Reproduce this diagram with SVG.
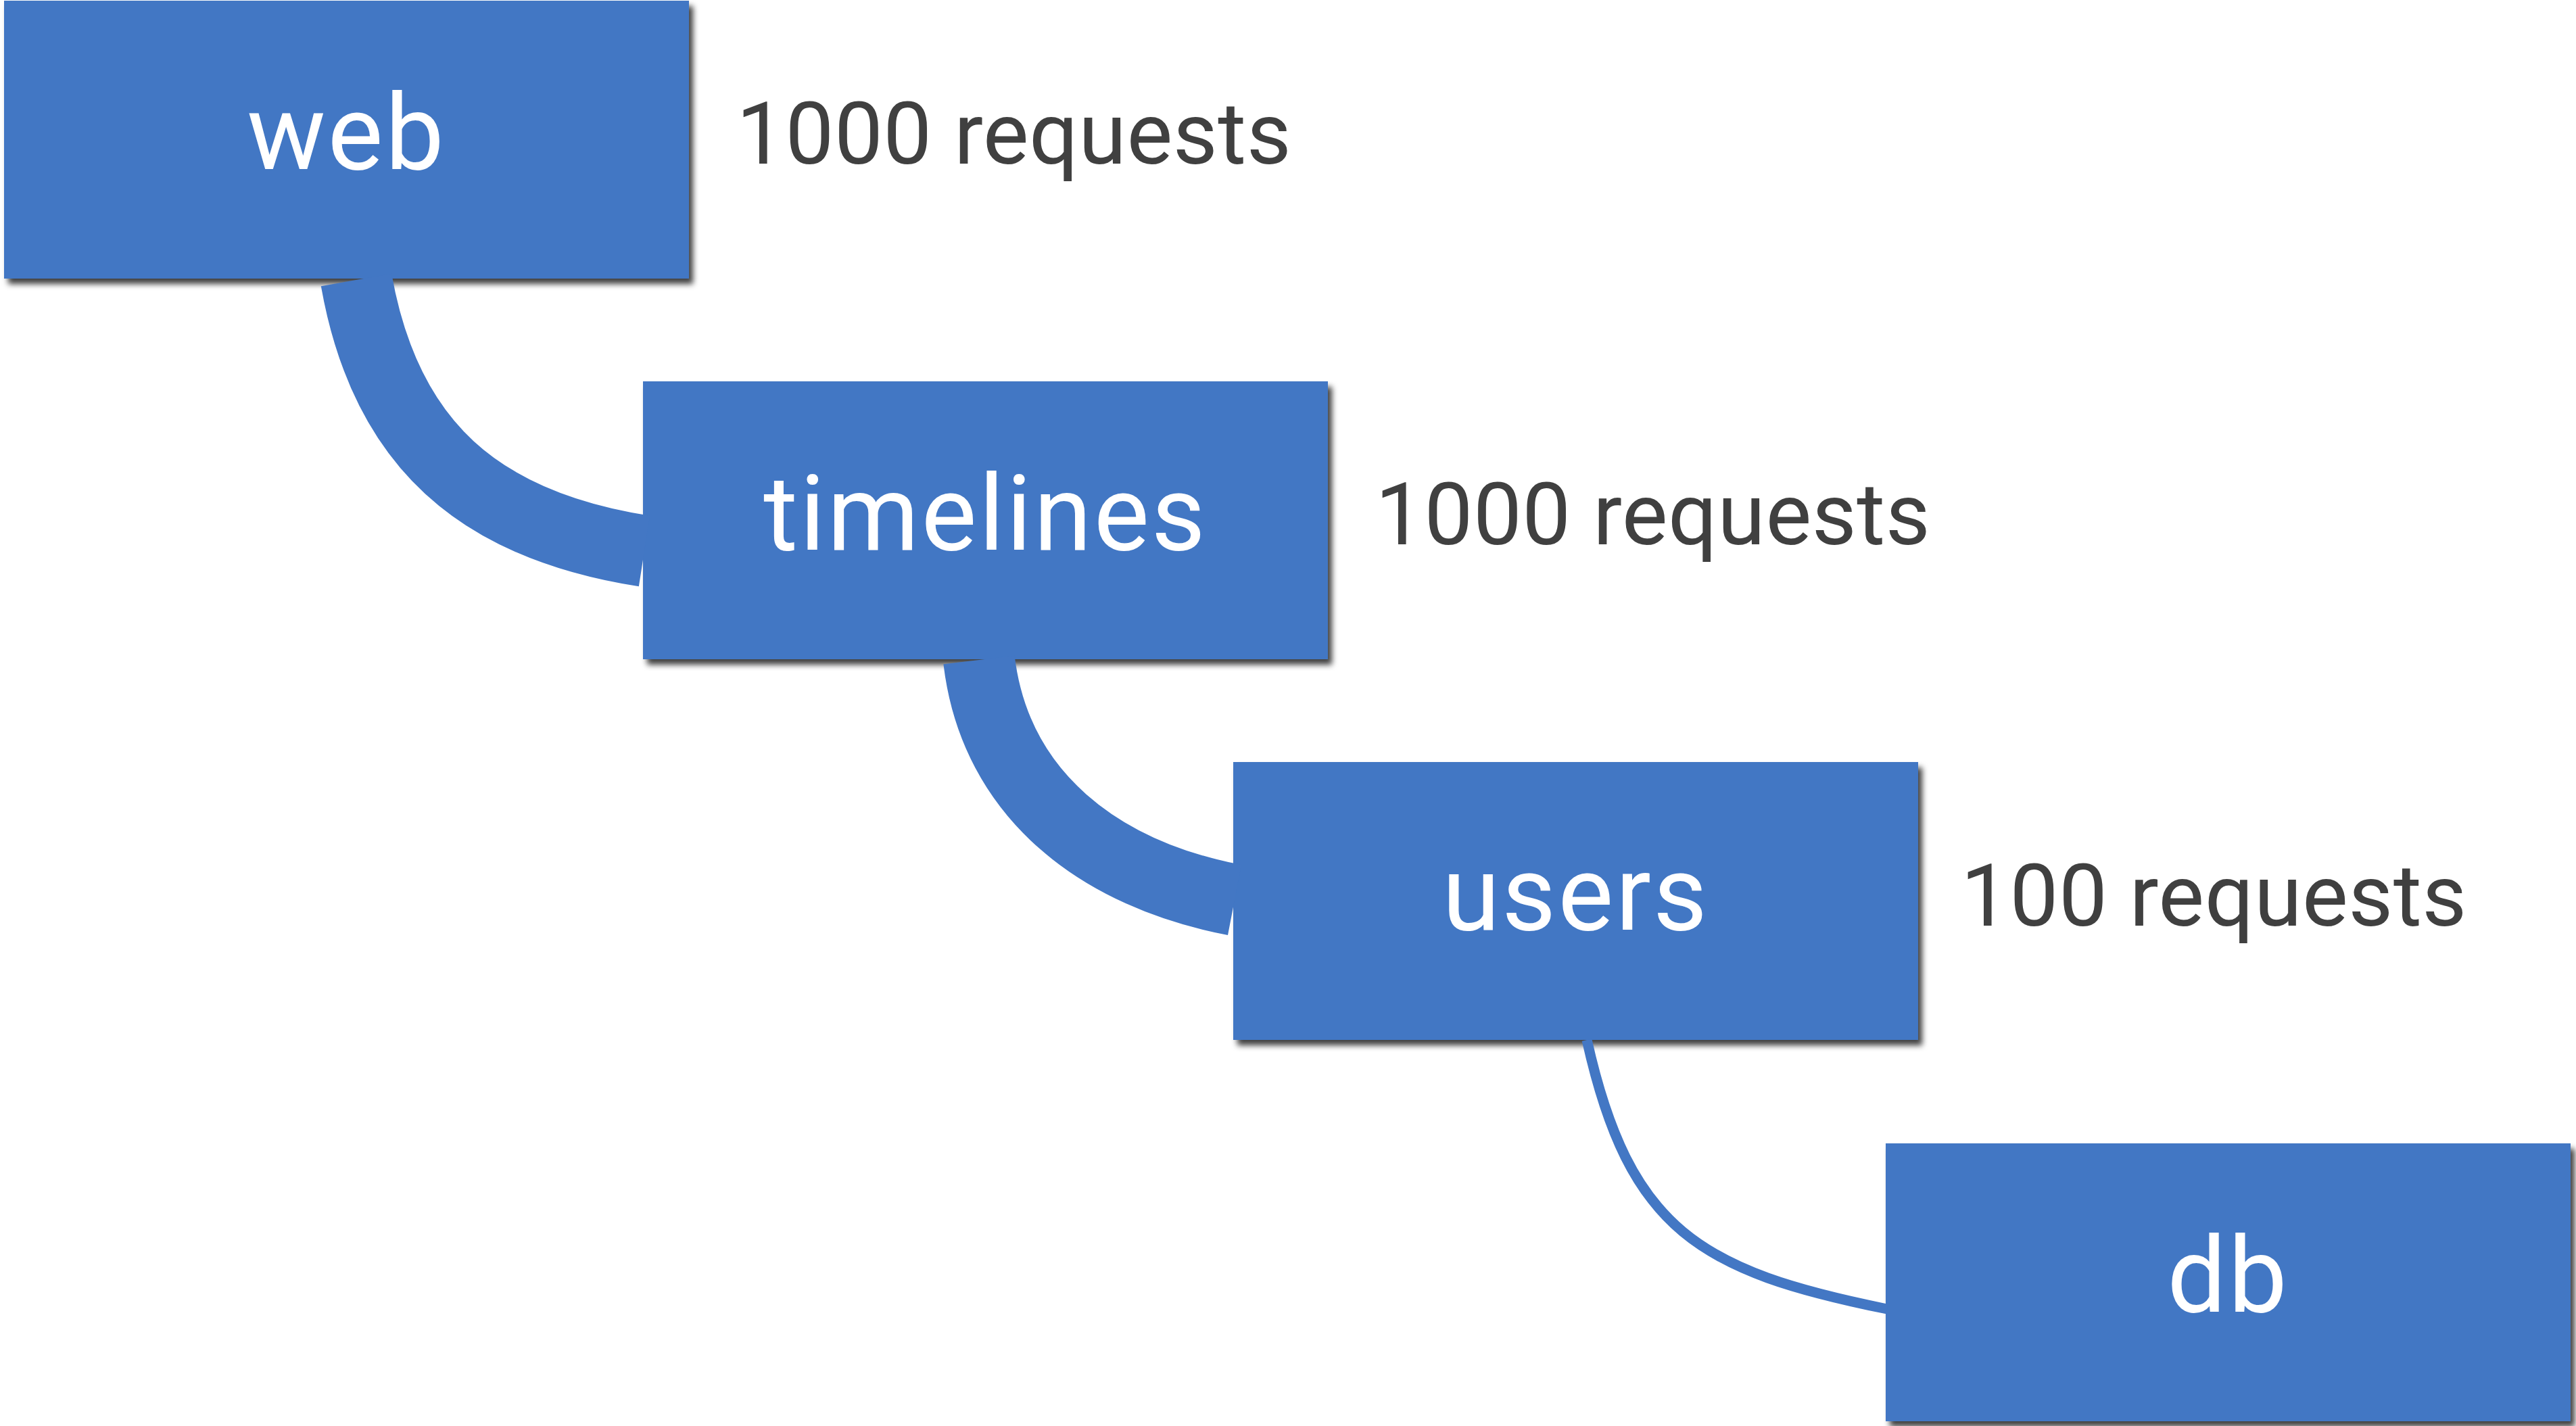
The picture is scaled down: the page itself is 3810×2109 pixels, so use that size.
<svg xmlns="http://www.w3.org/2000/svg" width="3810" height="2109" viewBox="0 0 3810 2109">
  <defs>
    <filter id="shadow" x="-5%" y="-5%" width="115%" height="120%">
      <feDropShadow dx="6" dy="8" stdDeviation="4" flood-color="#000" flood-opacity="0.75"/>
    </filter>
    <style>
      .box { fill: #4377C4; filter: url(#shadow); }
      .name { font-family: Roboto, "Liberation Sans", sans-serif; font-size: 155px; fill: #ffffff; text-anchor: middle; letter-spacing: 3px; }
      .count { font-family: Roboto, "Liberation Sans", sans-serif; font-size: 128px; fill: #404040; letter-spacing: 0.5px; }
      .link { fill: none; stroke: #4377C4; stroke-linecap: butt; }
      .heavy { stroke-width: 106; }
      .light { stroke-width: 15; }
    </style>
  </defs>
  <rect width="3810" height="2109" fill="#ffffff"/>

  <!-- service nodes -->
  <g id="node-web">
    <rect class="box" x="6" y="1" width="1013" height="411"/>
    <text class="name" x="512.5" y="250">web</text>
  </g>
  <g id="node-timelines">
    <rect class="box" x="951" y="564" width="1013" height="411"/>
    <text class="name" x="1457.5" y="813">timelines</text>
  </g>
  <g id="node-users">
    <rect class="box" x="1824" y="1127" width="1013" height="411"/>
    <text class="name" x="2330.5" y="1375">users</text>
  </g>
  <g id="node-db">
    <rect class="box" x="2789" y="1691" width="1013" height="411"/>
    <text class="name" x="3295.5" y="1940">db</text>
  </g>

  <!-- request-volume links; stroke width follows traffic -->
  <g id="connectors">
    <path class="link heavy" d="M527,414 C570,657 709,777 953,815"/>
    <path class="link heavy" d="M1448,976 C1472,1177 1628,1293 1826,1331"/>
    <path class="link light" d="M2347,1538 C2410,1820 2515,1880 2791,1936"/>
  </g>

  <!-- request counts -->
  <g id="labels">
    <text class="count" x="1089" y="242">1000 requests</text>
    <text class="count" x="2034" y="805">1000 requests</text>
    <text class="count" x="2900" y="1369">100 requests</text>
  </g>
</svg>
